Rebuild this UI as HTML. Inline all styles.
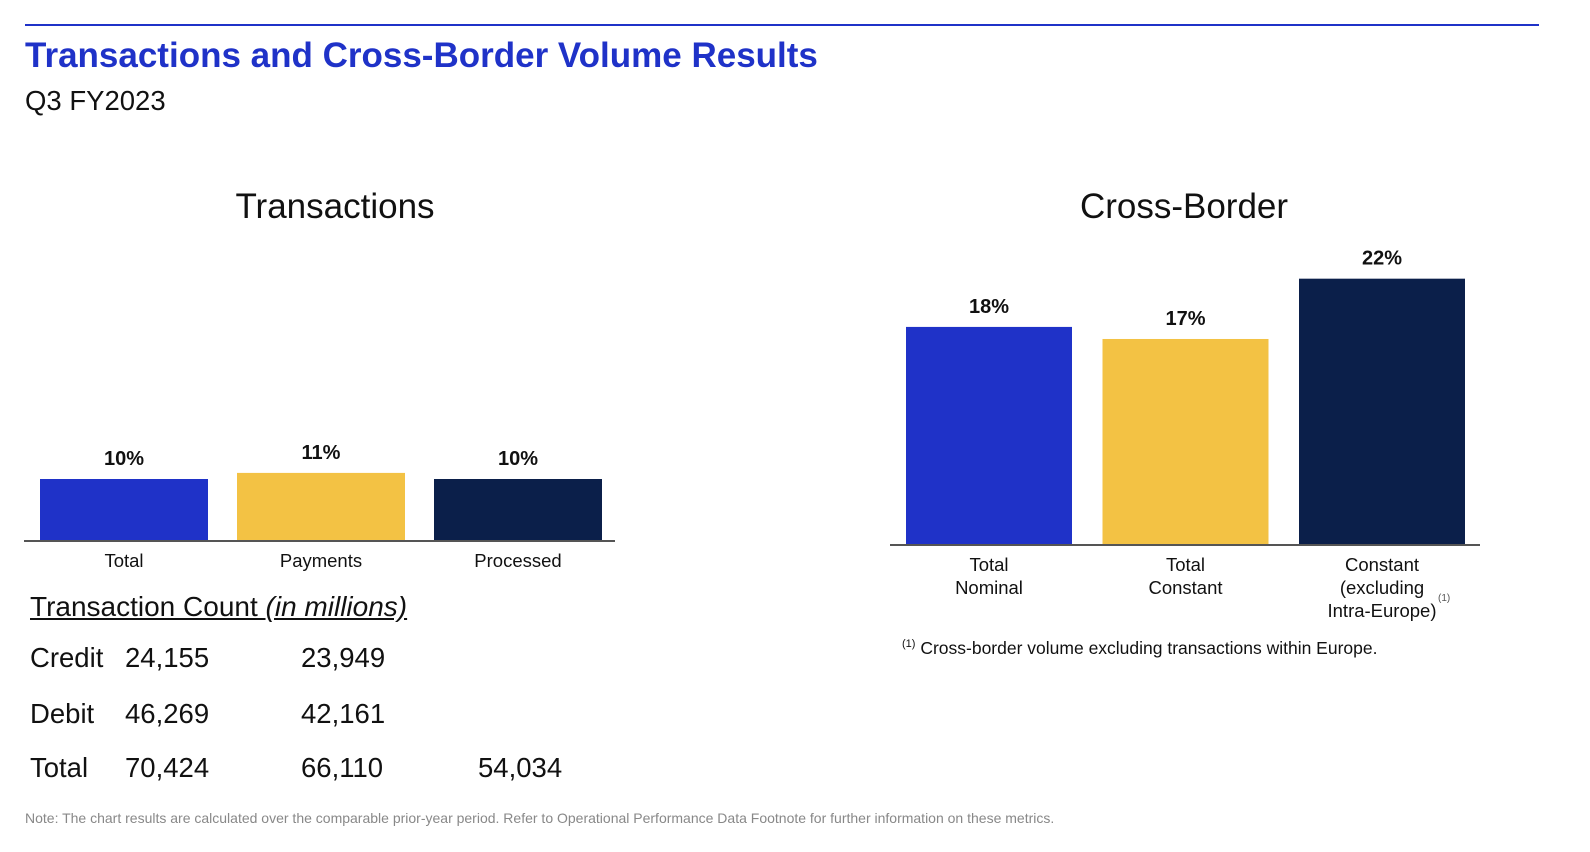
<!DOCTYPE html>
<html><head><meta charset="utf-8">
<style>
body{margin:0;width:1590px;height:852px;background:#fff;font-family:"Liberation Sans",Arial,sans-serif;position:relative;overflow:hidden}
.abs{position:absolute;white-space:nowrap}
</style></head><body>
<div class="abs" style="left:25px;top:24px;width:1514px;height:2px;background:#1f32c8"></div>
<div class="abs" style="left:25px;top:36px;font-size:35px;font-weight:bold;color:#1f32c8">Transactions and Cross-Border Volume Results</div>
<div class="abs" style="left:25px;top:85px;font-size:27.5px;color:#111">Q3 FY2023</div>
<div class="abs" style="left:335px;top:187px;font-size:35px;color:#111;transform:translateX(-50%)">Transactions</div>
<div class="abs" style="left:1184px;top:187px;font-size:35px;color:#111;transform:translateX(-50%)">Cross-Border</div>

<svg id="chart" width="1590" height="852" style="position:absolute;left:0;top:0"></svg>

<div class="abs" style="left:30px;top:591px;font-size:28px;color:#111;text-decoration:underline">Transaction Count <i>(in millions)</i></div>
<div style="font-size:27.5px;color:#111">
<div class="abs" style="left:30px;top:642px">Credit</div>
<div class="abs" style="left:125px;top:642px">24,155</div>
<div class="abs" style="left:301px;top:642px">23,949</div>
<div class="abs" style="left:30px;top:698px">Debit</div>
<div class="abs" style="left:125px;top:698px">46,269</div>
<div class="abs" style="left:301px;top:698px">42,161</div>
<div class="abs" style="left:30px;top:752px">Total</div>
<div class="abs" style="left:125px;top:752px">70,424</div>
<div class="abs" style="left:301px;top:752px">66,110</div>
<div class="abs" style="left:478px;top:752px">54,034</div>
</div>
<div class="abs" style="left:902px;top:638px;font-size:17.5px;color:#111"><sup style="font-size:11px">(1)</sup> Cross-border volume excluding transactions within Europe.</div>
<div class="abs" style="left:25px;top:810px;font-size:14px;color:#888">Note: The chart results are calculated over the comparable prior-year period. Refer to Operational Performance Data Footnote for further information on these metrics.</div>

<script>
const txCategories=["Total","Payments","Processed"];
const txValues=[10,11,10];
const txColors=["#1f32c8","#f3c244","#0b1f4a"];
const cbCategories=[["Total","Nominal"],["Total","Constant"],["Constant","(excluding","Intra-Europe)"]];
const cbValues=[18,17,22];
const cbColors=["#1f32c8","#f3c244","#0b1f4a"];

const svg=document.getElementById('chart');
const NS='http://www.w3.org/2000/svg';
function mk(t,a){const e=document.createElementNS(NS,t);for(const k in a)e.setAttribute(k,a[k]);svg.appendChild(e);return e;}

function drawChart(cats,vals,colors,o){
  const y=v=>o.base-v*o.pxPer;
  const x=i=>o.x0+i*o.step;
  vals.forEach((v,i)=>{
    const r=mk('rect',{x:x(i),y:y(v),width:o.bw,height:o.base-y(v),fill:colors[i]});
    
    
    const t=mk('text',{x:x(i)+o.bw/2,y:y(v)-14,'text-anchor':'middle','font-size':'20','font-weight':'bold',fill:'#111','font-family':'Liberation Sans'});
    t.textContent=v+'%';
    
    
    const lines=Array.isArray(cats[i])?cats[i]:[cats[i]];
    lines.forEach((ln,j)=>{
      const c=mk('text',{x:x(i)+o.bw/2,y:o.base+27+j*23,'text-anchor':'middle','font-size':'18.5',fill:'#111','font-family':'Liberation Sans'});
      c.textContent=ln;
      
      
    });
  });
  const ax=mk('line',{x1:o.ax1,x2:o.ax2,y1:o.base+1,y2:o.base+1,stroke:'#555','stroke-width':2});
  
  
}
drawChart(txCategories,txValues,txColors,{id:'transactions',x0:40,step:197,bw:168,base:540,pxPer:6.1,ax1:24,ax2:615});
drawChart(cbCategories,cbValues,cbColors,{id:'cross-border',x0:906,step:196.5,bw:166,base:544,pxPer:12.06,ax1:890,ax2:1480});
const sup=mk('text',{x:1438,y:601,'font-size':'10',fill:'#555','font-family':'Liberation Sans'});
sup.textContent='(1)';


</script>
</body></html>
